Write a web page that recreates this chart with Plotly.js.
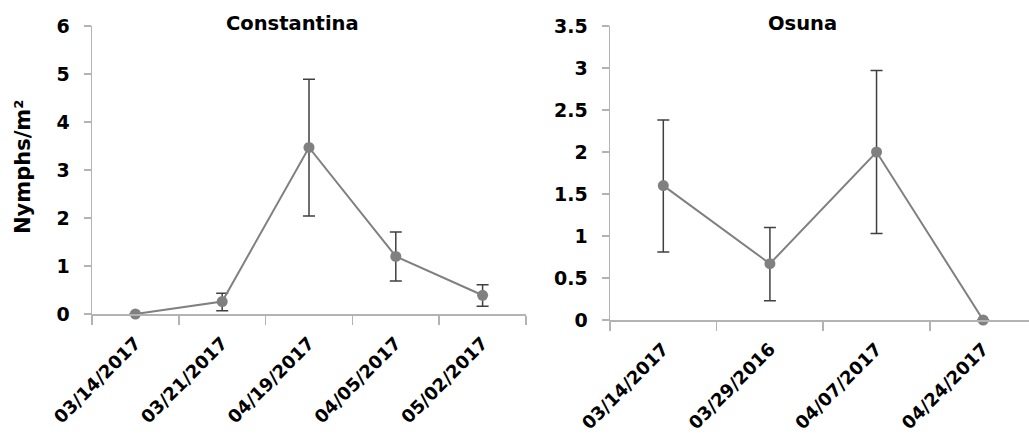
<!DOCTYPE html>
<html>
<head>
<meta charset="utf-8">
<script src="https://cdn.plot.ly/plotly-3.0.1.min.js"></script>
<style>html,body{margin:0;padding:0;background:#fff;}#chart{width:1029px;height:442px;}</style>
</head>
<body>
<div id="chart"></div>
<script>
// Constantina
const constDates = ["03/14/2017", "03/21/2017", "04/19/2017", "04/05/2017", "05/02/2017"];
const constValues = [0, 0.26, 3.47, 1.2, 0.39];
const constErrPlus = [0, 0.17, 1.42, 0.51, 0.22];
const constErrMinus = [0, 0.19, 1.43, 0.51, 0.23];
// Osuna
const osunaDates = ["03/14/2017", "03/29/2016", "04/07/2017", "04/24/2017"];
const osunaValues = [1.6, 0.67, 2.0, 0];
const osunaErrPlus = [0.78, 0.43, 0.97, 0];
const osunaErrMinus = [0.79, 0.44, 0.97, 0];

const titles = ["Constantina", "Osuna"];
const yAxisLabel = "Nymphs/m²";

const W = 1029, H = 442;
const lineCol = "#808080";
const errCol = "#404040";
const axCol = "#b3b3b3";
const fontFam = "DejaVu Sans, sans-serif";
const yTickFont = {family: fontFam, size: 19, color: "#000", weight: 700};
const xTickFont = {family: fontFam, size: 18, color: "#000", weight: 700};

function trace(x, y, ep, em, xa, ya) {
  return {
    type: "scatter", mode: "lines+markers",
    x: x, y: y, xaxis: xa, yaxis: ya,
    line: {color: lineCol, width: 2},
    marker: {color: lineCol, size: 11},
    error_y: {type: "data", symmetric: false, array: ep, arrayminus: em,
              color: errCol, thickness: 1.5, width: 6},
    hoverinfo: "skip", showlegend: false, cliponaxis: false
  };
}

const data = [
  trace(constDates, constValues, constErrPlus, constErrMinus, "x", "y"),
  trace(osunaDates, osunaValues, osunaErrPlus, osunaErrMinus, "x2", "y2")
];

function xax(domain, range, anchor) {
  return {
    domain: domain, range: range, anchor: anchor, type: "category",
    showline: true, linecolor: axCol, linewidth: 1.5,
    ticks: "outside", tickson: "boundaries", ticklen: 9, tickcolor: axCol, tickwidth: 1.5,
    showgrid: false, zeroline: false, tickangle: -45, tickfont: xTickFont,
    ticklabelstandoff: 10, fixedrange: true
  };
}
function yax(domain, range, dtick, anchor) {
  return {
    domain: domain, range: range, anchor: anchor,
    tickmode: "linear", tick0: 0, dtick: dtick,
    showline: true, linecolor: axCol, linewidth: 1.5,
    ticks: "outside", ticklen: 7, tickcolor: axCol, tickwidth: 1.5,
    showgrid: false, zeroline: false, tickfont: yTickFont,
    ticklabelstandoff: 10, fixedrange: true
  };
}

const layout = {
  width: W, height: H,
  margin: {l: 0, r: 0, t: 0, b: 0},
  paper_bgcolor: "#fff", plot_bgcolor: "#fff",
  xaxis: xax([92 / W, 526 / W], [-0.5, 4.5], "y"),
  yaxis: yax([1 - 314 / H, 1 - 26 / H], [0, 6], 1, "x"),
  xaxis2: xax([610 / W, 1], [-0.5, 3.43], "y2"),
  yaxis2: yax([1 - 320 / H, 1 - 26 / H], [0, 3.5], 0.5, "x2"),
  annotations: [
    {text: titles[0], xref: "paper", yref: "paper", x: 292 / W, y: 1 - 23 / H,
     xanchor: "center", yanchor: "middle", showarrow: false,
     font: {family: fontFam, size: 19.5, color: "#000", weight: 700}},
    {text: titles[1], xref: "paper", yref: "paper", x: 802 / W, y: 1 - 23 / H,
     xanchor: "center", yanchor: "middle", showarrow: false,
     font: {family: fontFam, size: 19.5, color: "#000", weight: 700}},
    {text: yAxisLabel, xref: "paper", yref: "paper", x: 23 / W, y: 1 - 167 / H,
     xanchor: "center", yanchor: "middle", showarrow: false, textangle: -90,
     font: {family: fontFam, size: 21, color: "#000", weight: 700}}
  ]
};

Plotly.newPlot("chart", data, layout, {displayModeBar: false, staticPlot: true});
</script>
</body>
</html>
